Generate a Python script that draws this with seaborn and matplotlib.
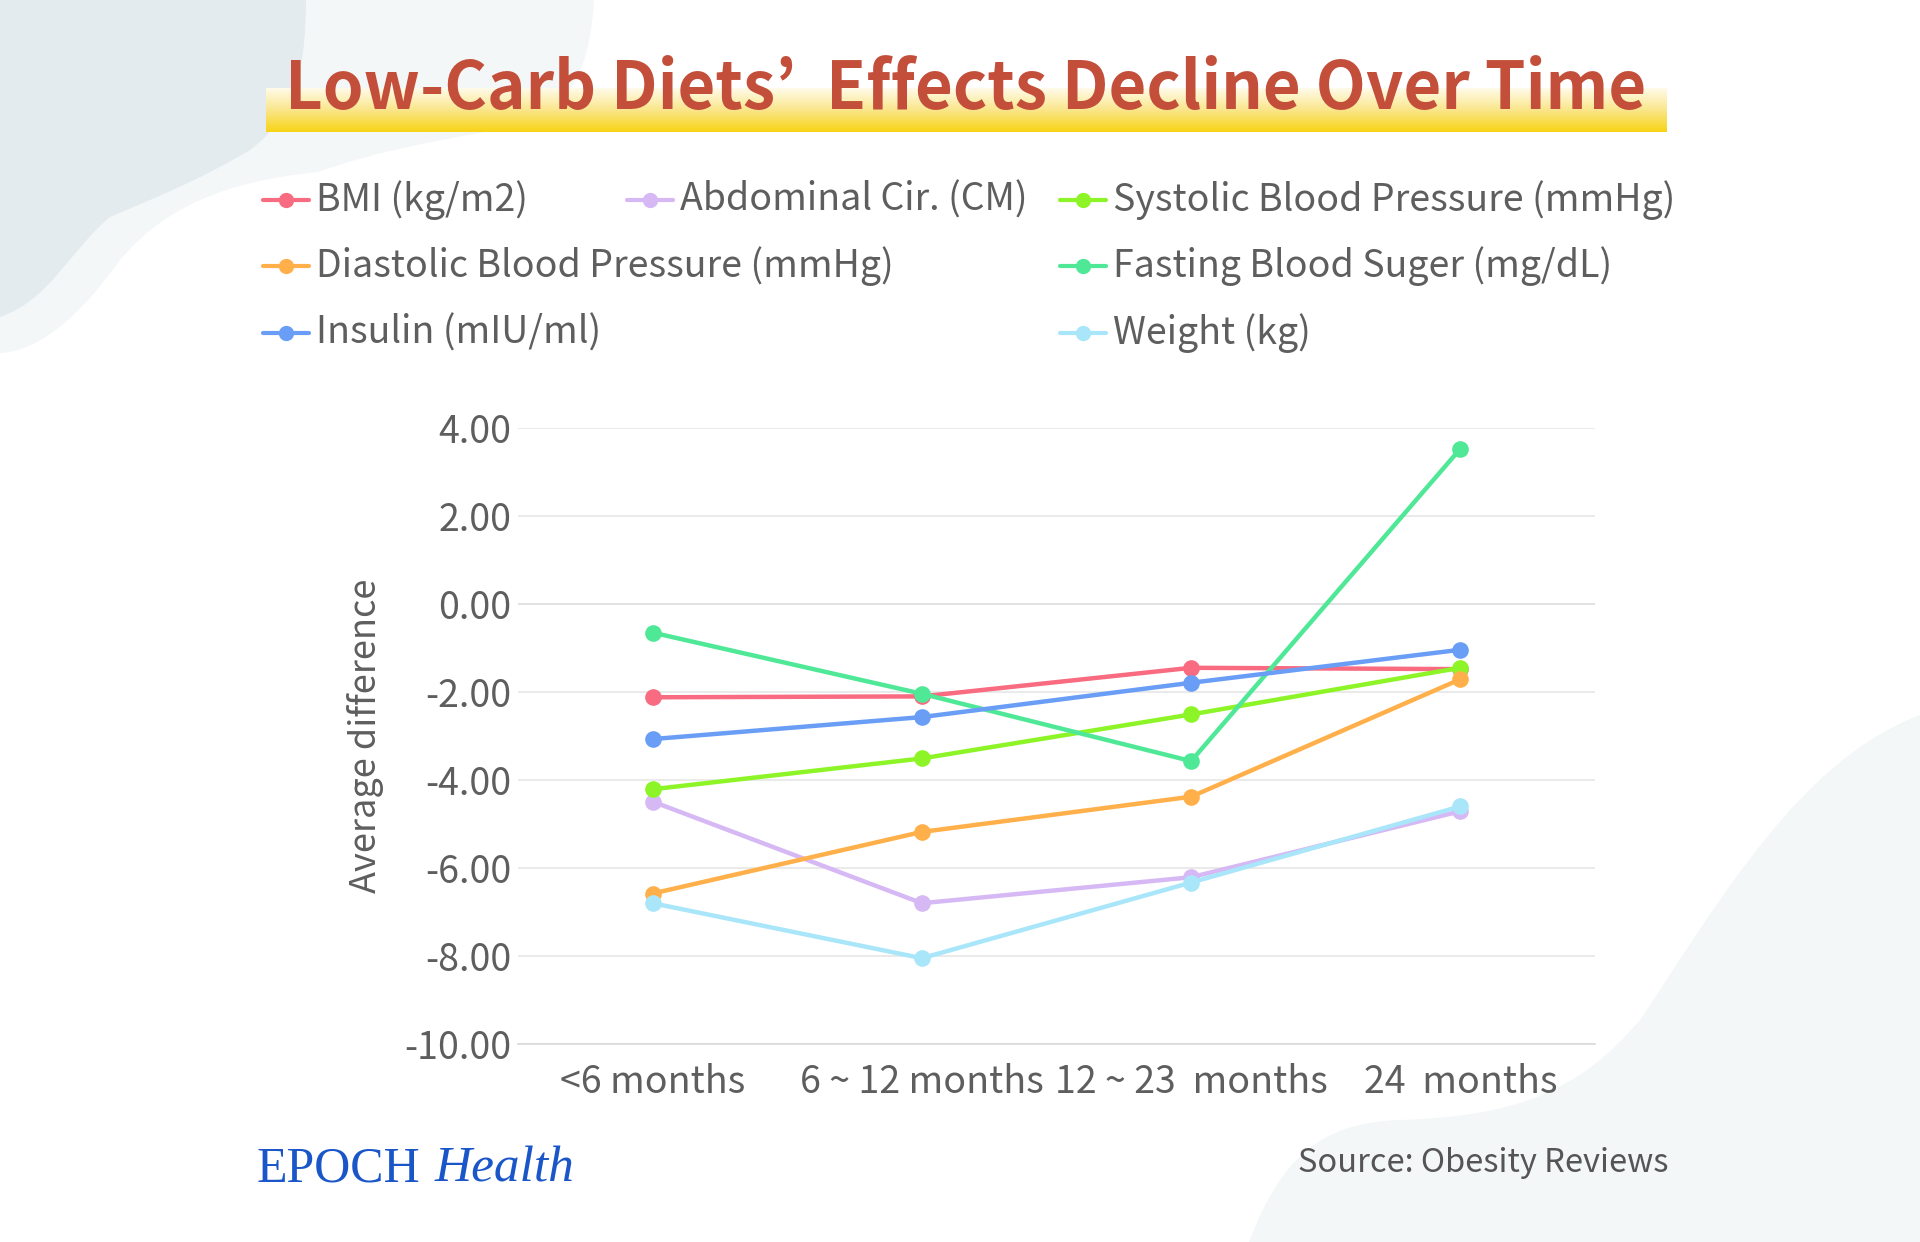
import numpy as np
import pandas as pd
import seaborn as sns
import matplotlib
matplotlib.use("Agg")
import matplotlib.pyplot as plt
from matplotlib.path import Path
from matplotlib.patches import PathPatch
from matplotlib.lines import Line2D
from matplotlib.colors import LinearSegmentedColormap

# data
periods = ["<6 months", "6 ~ 12 months", "12 ~ 23  months", "24  months"]
measures = ["BMI (kg/m2)", "Abdominal Cir. (CM)", "Systolic Blood Pressure (mmHg)",
            "Diastolic Blood Pressure (mmHg)", "Fasting Blood Suger (mg/dL)",
            "Insulin (mIU/ml)", "Weight (kg)"]
colors = ["#F86B80", "#D6B9F4", "#8DF527", "#FFB04A", "#4EE897", "#6A9EF6", "#A9E6FA"]

bmi = [-2.12, -2.10, -1.45, -1.48]
abdominal = [-4.49, -6.80, -6.21, -4.71]
systolic = [-4.21, -3.51, -2.51, -1.45]
diastolic = [-6.58, -5.18, -4.38, -1.71]
fasting = [-0.65, -2.04, -3.57, 3.53]
insulin = [-3.07, -2.57, -1.79, -1.04]
weight = [-6.80, -8.05, -6.33, -4.60]

y_ticks = [-10, -8, -6, -4, -2, 0, 2, 4]

title = "Low-Carb Diets’  Effects Decline Over Time"

values = [bmi, abdominal, systolic, diastolic, fasting, insulin, weight]
rows = []
for name, vals in zip(measures, values):
    for i, v in enumerate(vals):
        rows.append({"measure": name, "pos": i, "value": v})
df = pd.DataFrame(rows)

sns.set_theme(style="white")
plt.rcParams["font.family"] = ["Noto Sans CJK SC", "DejaVu Sans"]

W, H = 1920, 1242
fig = plt.figure(figsize=(19.2, 12.42), dpi=100)
fig.patch.set_facecolor("white")


def fx(x):
    return x / W


def fy(y):
    return 1 - y / H


def blob(points, codes, color):
    verts = [(fx(x), fy(y)) for x, y in points]
    p = PathPatch(Path(verts, codes), transform=fig.transFigure,
                  facecolor=color, edgecolor="none", zorder=-5)
    fig.add_artist(p)


M, C, L, Z = Path.MOVETO, Path.CURVE4, Path.LINETO, Path.CLOSEPOLY

# light background shape top-left
blob([(0, 0), (594, 0), (590, 80), (560, 120), (514, 127),
      (440, 140), (380, 150), (318, 172),
      (240, 180), (170, 200), (120, 260),
      (70, 330), (30, 352), (0, 353), (0, 0)],
     [M, L, C, C, C, C, C, C, C, C, C, C, C, C, Z], "#F4F7F8")
# darker shape top-left
blob([(0, 0), (306, 0), (306, 80), (290, 120), (250, 150),
      (200, 180), (150, 200), (110, 217),
      (70, 250), (50, 300), (0, 317), (0, 0)],
     [M, L, C, C, C, C, C, C, C, C, C, Z], "#E3EBEF")
# light shape bottom-right
blob([(1249, 1242), (1280, 1160), (1320, 1122), (1400, 1120),
      (1520, 1116), (1580, 1090), (1640, 1020),
      (1720, 900), (1800, 760), (1920, 715), (1920, 1242), (1249, 1242)],
     [M, C, C, C, C, C, C, C, C, C, L, Z], "#F4F7F8")

# title with yellow gradient bar
bax = fig.add_axes([fx(266), fy(132), fx(1667 - 266), 44 / H])
cmap = LinearSegmentedColormap.from_list("bar", ["#FFFBEA", "#FAE68A", "#F8D416"])
bax.imshow(np.linspace(0, 1, 100).reshape(-1, 1), aspect="auto", cmap=cmap)
bax.axis("off")
fig.text(0.503, fy(109), title, ha="center", va="baseline", fontsize=47,
         weight="bold", color="#C34E3A", family=["Noto Sans CJK KR", "DejaVu Sans"])

# legend (flow layout like the original)
legend_pos = [(263, 200), (627, 200), (1060, 200),
              (263, 266), (1060, 266),
              (263, 333), (1060, 333)]
for name, col, (lx, ly) in zip(measures, colors, legend_pos):
    fig.add_artist(Line2D([fx(lx), fx(lx + 46)], [fy(ly), fy(ly)], color=col, lw=3,
                          transform=fig.transFigure))
    fig.add_artist(Line2D([fx(lx + 23)], [fy(ly)], color=col, marker="o", markersize=11,
                          markeredgewidth=0, transform=fig.transFigure))
    fig.text(fx(lx + 53), fy(ly), name, ha="left", va="center", fontsize=27,
             color="#5E5E5E")

# main chart
ax = fig.add_axes([fx(518), fy(1044), fx(1595 - 518), (1044 - 428) / H])
ax.set_facecolor("none")
sns.lineplot(data=df, x="pos", y="value", hue="measure", hue_order=measures,
             palette=dict(zip(measures, colors)), marker="o", markersize=12,
             markeredgewidth=0, linewidth=3.2, sort=False, legend=False, ax=ax)

ax.set_ylim(-10, 4)
ax.set_xlim(-0.5, 3.5)
ax.set_yticks(y_ticks)
ax.set_yticklabels([f"{v:.2f}" for v in y_ticks])
ax.set_xticks(range(len(periods)))
ax.set_xticklabels(periods)
ax.set_xticks([0.5, 1.5, 2.5], minor=True)
ax.yaxis.grid(True, color="#E6E6E6", lw=1.2)
ax.set_axisbelow(True)
ax.axhline(0, color="#CACACA", lw=1.2, zorder=0.5)
for s in ["top", "right", "left"]:
    ax.spines[s].set_visible(False)
ax.spines["bottom"].set_color("#D9D9D9")
ax.spines["bottom"].set_linewidth(1.2)
ax.tick_params(axis="both", which="major", length=0, labelsize=27, labelcolor="#5E5E5E")
ax.tick_params(axis="y", pad=5)
ax.tick_params(axis="x", pad=14)
ax.tick_params(axis="x", which="minor", direction="in", length=13, width=1.2, color="#D9D9D9")
ax.set_xlabel("")
ax.set_ylabel("Average difference", fontsize=26, color="#5E5E5E", labelpad=14)

# footer
fig.text(fx(257), fy(1182), "EPOCH", family="Liberation Serif", fontsize=36,
         color="#1B56C9", ha="left", va="baseline")
fig.text(fx(435), fy(1182), "Health", family="Liberation Serif", style="italic",
         fontsize=37, color="#1B56C9", ha="left", va="baseline")
fig.text(fx(1669), fy(1163), "Source: Obesity Reviews", ha="right", va="center",
         fontsize=23.5, weight="light", color="#555555")

fig.savefig("out.png", dpi=100)
